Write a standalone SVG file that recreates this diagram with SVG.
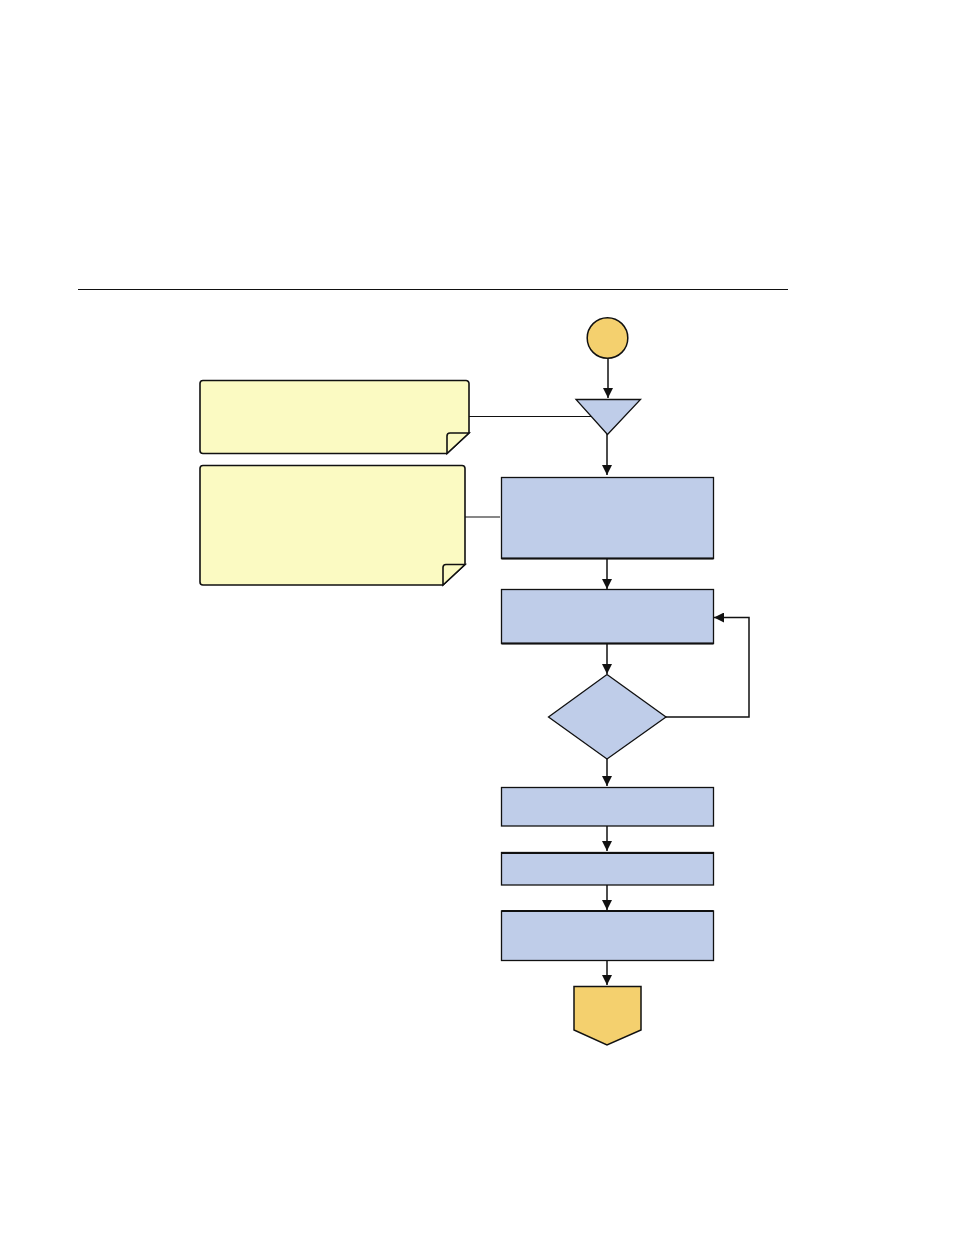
<svg xmlns="http://www.w3.org/2000/svg" width="954" height="1235" viewBox="0 0 954 1235">
<style>
.blue{fill:#bfcde9;stroke:#111;stroke-width:1.3}
.note{fill:#fbfac2;stroke:#111;stroke-width:1.6}
.gold{fill:#f4d06e;stroke:#111;stroke-width:1.5}
.conn{fill:none;stroke:#111;stroke-width:1.5}
</style>
<defs>
<marker id="ah" viewBox="0 0 10 10" refX="10" refY="5" markerWidth="10" markerHeight="10" markerUnits="userSpaceOnUse" orient="auto">
<path d="M0,0 L10,5 L0,10 Z" fill="#111"/>
</marker>
</defs>
<line x1="78" y1="289.5" x2="788" y2="289.5" stroke="#111" stroke-width="1.2"/>
<g id="connectors">
<line class="conn" x1="608" y1="358" x2="608" y2="398" marker-end="url(#ah)"/>
<line class="conn" x1="607" y1="434" x2="607" y2="475" marker-end="url(#ah)"/>
<line class="conn" x1="607" y1="559" x2="607" y2="589" marker-end="url(#ah)"/>
<line class="conn" x1="607" y1="644" x2="607" y2="674" marker-end="url(#ah)"/>
<line class="conn" x1="607" y1="759" x2="607" y2="786" marker-end="url(#ah)"/>
<line class="conn" x1="607" y1="826" x2="607" y2="851" marker-end="url(#ah)"/>
<line class="conn" x1="607" y1="885" x2="607" y2="910" marker-end="url(#ah)"/>
<line class="conn" x1="607" y1="961" x2="607" y2="985" marker-end="url(#ah)"/>
<polyline class="conn" points="666,717 749,717 749,617.5 714,617.5" marker-end="url(#ah)"/>
<line x1="469" y1="416.5" x2="593" y2="416.5" stroke="#111" stroke-width="1.2"/>
<line x1="465" y1="517" x2="500" y2="517" stroke="#111" stroke-width="1.2"/>
</g>
<g id="start"><circle class="gold" cx="607.5" cy="338" r="20.3"/></g>
<g id="merge"><polygon class="blue" points="576,399.5 640.5,399.5 607.5,434.5"/></g>
<g id="note1">
<path class="note" d="M203,380.5 H466 A3,3 0 0 1 469,383.5 V433 L447,453.5 H203 A3,3 0 0 1 200,450.5 V383.5 A3,3 0 0 1 203,380.5 Z"/>
<path class="note" d="M447,453.5 V436 Q447,433 450,433 H469 Z"/>
</g>
<g id="note2">
<path class="note" d="M203,465.5 H462 A3,3 0 0 1 465,468.5 V564.5 L443,585 H203 A3,3 0 0 1 200,582 V468.5 A3,3 0 0 1 203,465.5 Z"/>
<path class="note" d="M443,585 V567.5 Q443,564.5 446,564.5 H465 Z"/>
</g>
<g id="step1"><rect class="blue" x="501.5" y="477.5" width="212" height="81"/><line x1="501.5" y1="558.5" x2="713.5" y2="558.5" stroke="#111" stroke-width="2"/></g>
<g id="step2"><rect class="blue" x="501.5" y="589.5" width="212" height="54"/><line x1="501.5" y1="643.5" x2="713.5" y2="643.5" stroke="#111" stroke-width="2"/></g>
<g id="decision"><polygon class="blue" points="607,674.5 666,717 607,759 548.5,717"/></g>
<g id="step3"><rect class="blue" x="501.5" y="787.5" width="212" height="38.5"/></g>
<g id="step4"><rect class="blue" x="501.5" y="852.5" width="212" height="32.5"/><line x1="501.5" y1="853" x2="713.5" y2="853" stroke="#111" stroke-width="2"/></g>
<g id="step5"><rect class="blue" x="501.5" y="911" width="212" height="49.5"/><line x1="501.5" y1="911" x2="713.5" y2="911" stroke="#111" stroke-width="2"/></g>
<g id="end"><polygon class="gold" points="574,986.5 641,986.5 641,1030 607,1045 574,1030"/></g>
</svg>
